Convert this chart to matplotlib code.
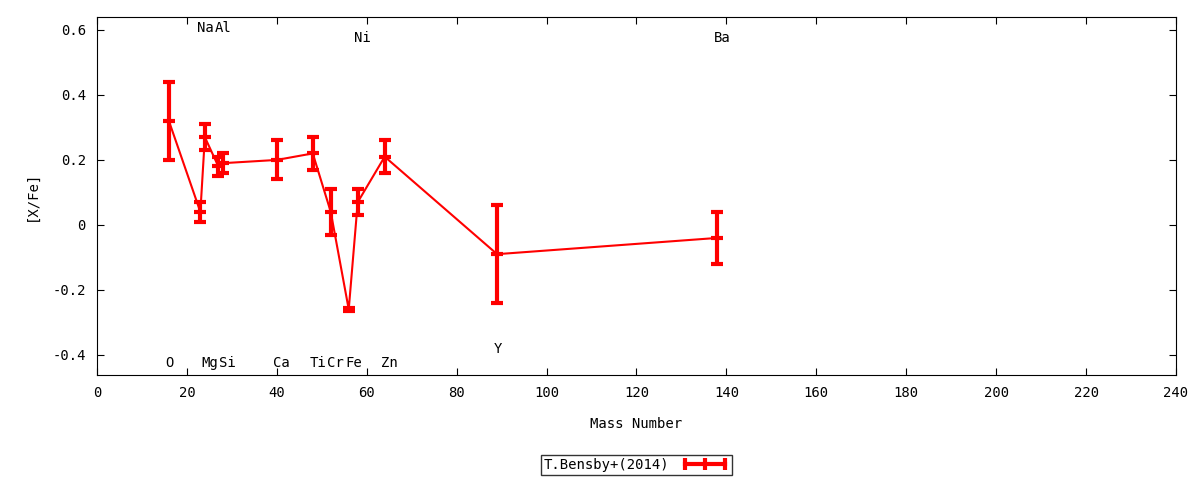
import matplotlib
matplotlib.use("Agg")
import matplotlib.pyplot as plt
from matplotlib.lines import Line2D

plt.rcParams['font.family'] = ['DejaVu Sans Mono']
plt.rcParams['font.size'] = 9

# [X/Fe] abundances from T.Bensby+(2014), by mass number
elements = ['O', 'Na', 'Mg', 'Al', 'Si', 'Ca', 'Ti', 'Cr', 'Fe', 'Ni', 'Zn', 'Y', 'Ba']
mass = [16, 23, 24, 27, 28, 40, 48, 52, 56, 58, 64, 89, 138]
x_fe = [0.32, 0.04, 0.27, 0.18, 0.19, 0.20, 0.22, 0.04, -0.26, 0.07, 0.21, -0.09, -0.04]
err = [0.12, 0.03, 0.04, 0.03, 0.03, 0.06, 0.05, 0.07, 0.005, 0.04, 0.05, 0.15, 0.08]

# label heights (top or bottom of the panel)
label_y = [-0.425, 0.605, -0.425, 0.605, -0.425, -0.425, -0.425, -0.425, -0.425,
           0.575, -0.425, -0.382, 0.575]

fig = plt.figure(figsize=(12, 4.8), dpi=100)
ax = fig.add_axes([0.0808, 0.219, 0.8992, 0.745])

ax.errorbar(mass, x_fe, yerr=err, color='red', lw=1.5, elinewidth=3,
            capsize=4, capthick=3, marker='_', ms=9, mew=3)

for el, m, ly in zip(elements, mass, label_y):
    ax.text(m - 0.8, ly, el, ha='left', va='center', fontsize=10)

ax.set_xlim(0, 240)
ax.set_ylim(-0.4615, 0.639)
ax.set_xticks(range(0, 241, 20))
ax.set_yticks([-0.4, -0.2, 0, 0.2, 0.4, 0.6])
ax.set_yticklabels(['-0.4', '-0.2', '0', '0.2', '0.4', '0.6'])
ax.tick_params(direction='in', top=True, right=True, length=5, labelsize=10, pad=8)

ax.set_xlabel('Mass Number', fontsize=10, labelpad=12)
ax.set_ylabel('[X/Fe]', fontsize=10, labelpad=10)

handle = Line2D([], [], color='red', lw=3, marker='|', ms=9, mew=3)
ax.legend([handle], ['T.Bensby+(2014)'], loc='center', bbox_to_anchor=(0.5, -0.252),
          frameon=True, fancybox=False, edgecolor='black', markerfirst=False,
          numpoints=3, handlelength=3.5, borderpad=0.2, fontsize=10)

fig.savefig('out.png', dpi=100)
